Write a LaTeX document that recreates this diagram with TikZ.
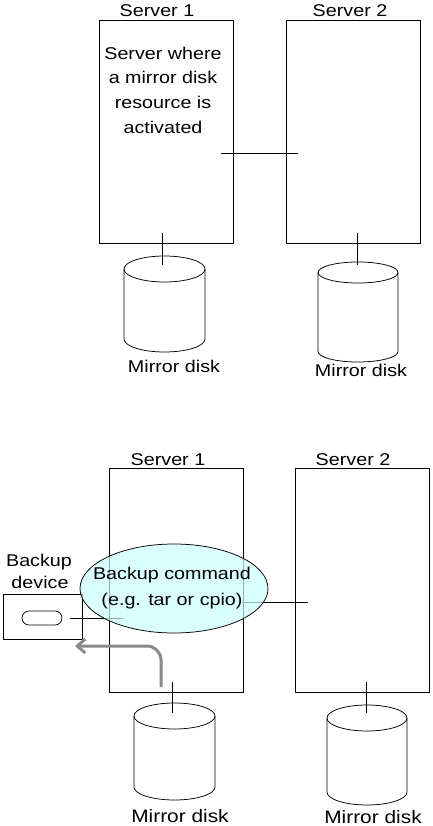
\documentclass[tikz,border=0pt]{standalone}
\usepackage{fontspec}
\setmainfont{Liberation Sans}[FakeStretch=1.16]
\usetikzlibrary{arrows.meta,shapes.misc}
\definecolor{cmdfill}{RGB}{204,255,255}
\definecolor{arrgray}{RGB}{137,137,137}
\newcommand{\mdisk}[6]{%
  \coordinate (#1) at (#2,#3);
  \draw (#2-#5,#3) -- (#2-#5,#4) arc[start angle=180,end angle=360,x radius=#5pt,y radius=#6pt] -- (#2+#5,#3);
  \draw (#1) ellipse[x radius=#5pt,y radius=#6pt];
}
\begin{document}
\begin{tikzpicture}[x=1pt,y=-1pt,line width=0.75pt,
  server/.style={draw,minimum width=134pt,minimum height=223pt,inner sep=0pt},
  lbl/.style={font=\fontsize{17}{20}\selectfont,anchor=base,inner sep=0pt},
  lblb/.style={font=\fontsize{18}{22}\selectfont,anchor=base,inner sep=0pt}]
\useasboundingbox (0,0) rectangle (432,826);

% ---------- upper scene ----------
\node[server] (s1t) at (166,131.5) {};
\node[server] (s2t) at (353,131.5) {};
\node[lbl] (s1tl) at (157,17) {Server 1};
\node[lbl] (s2tl) at (350,17) {Server 2};
\node[font=\fontsize{17}{24.7}\selectfont,align=center,inner sep=0pt] (s1ttxt) at (163,90)
  {Server where\\a mirror disk\\resource is\\activated};
\coordinate (ta) at (221,153);
\coordinate (tb) at (298,153);
\draw (ta) -- (tb);

\mdisk{dt1}{164.5}{269}{339}{40.5}{13}
\mdisk{dt2}{358}{272.5}{351.5}{40}{10.5}
\coordinate (dt1a) at (162,233); \coordinate (dt1b) at (162,265);
\coordinate (dt2a) at (357,233); \coordinate (dt2b) at (357,265);
\draw (dt1a) -- (dt1b);
\draw (dt2a) -- (dt2b);
\node[lbl] (dt1l) at (174,372) {Mirror disk};
\node[lbl] (dt2l) at (361,376) {Mirror disk};

% ---------- lower scene ----------
\node[server,minimum height=224pt] (s1b) at (176,580) {};
\node[server,minimum height=224pt] (s2b) at (362,580) {};
\node[lbl] (s1bl) at (168,465) {Server 1};
\node[lbl] (s2bl) at (353,465) {Server 2};

\node[draw,minimum width=79pt,minimum height=45pt,inner sep=0pt] (bdev) at (42.5,616.5) {};
\node[draw,rounded rectangle,minimum width=40pt,minimum height=14pt,inner sep=0pt] (pill) at (42,618) {};
\node[lbl] (bdl1) at (39,566) {Backup};
\node[lbl] (bdl2) at (40,588) {device};

\coordinate (ba) at (70,618);
\coordinate (bb) at (123,618);
\draw (ba) -- (bb);
\coordinate (sa) at (242,602);
\coordinate (sb) at (308,602);
\draw (sa) -- (sb);

\coordinate (cmdc) at (174,588.5);
\draw[fill=cmdfill,fill opacity=0.7] (cmdc) ellipse[x radius=94pt,y radius=44.5pt];
\node[font=\fontsize{17}{26}\selectfont,align=center,inner sep=0pt] (cmd) at (172,588)
  {Backup command\\(e.g. tar or cpio)};

\mdisk{db1}{174.5}{716}{787}{40.5}{13}
\mdisk{db2}{367}{718}{792}{40}{13}
\coordinate (db1a) at (172,682); \coordinate (db1b) at (172,713);
\coordinate (db2a) at (366,682); \coordinate (db2b) at (366,713);
\draw (db1a) -- (db1b);
\draw (db2a) -- (db2b);
\node[lblb] (db1l) at (180,822) {Mirror disk};
\node[lblb] (db2l) at (373,823) {Mirror disk};

\coordinate (aa) at (161,687);
\coordinate (ac) at (161,646);
\coordinate (ab) at (75,646);
\draw[arrgray,line width=3pt,rounded corners=14pt,-{Straight Barb[length=8pt,width=14pt]}] (aa) -- (ac) -- (ab);
\end{tikzpicture}
\end{document}
